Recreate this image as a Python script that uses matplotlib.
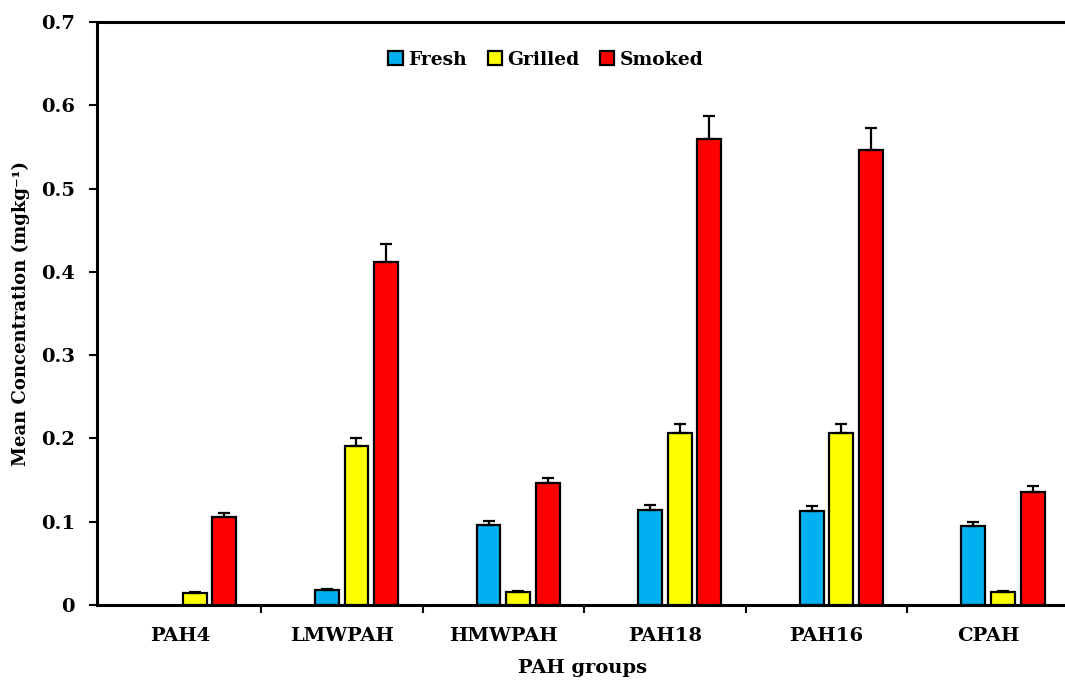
import numpy as np
import matplotlib.pyplot as plt

# PAH group means (mg/kg) and their standard errors
groups = ["PAH4", "LMWPAH", "HMWPAH", "PAH18", "PAH16", "CPAH"]
fresh = [0.0, 0.018, 0.096, 0.114, 0.113, 0.095]
grilled = [0.015, 0.191, 0.016, 0.207, 0.207, 0.016]
smoked = [0.106, 0.412, 0.146, 0.559, 0.546, 0.136]
fresh_err = [0.0, 0.001, 0.005, 0.006, 0.006, 0.005]
grilled_err = [0.001, 0.010, 0.001, 0.010, 0.010, 0.001]
smoked_err = [0.005, 0.021, 0.007, 0.028, 0.027, 0.007]

plt.rcParams['font.family'] = ['DejaVu Serif']
plt.rcParams['font.weight'] = 'bold'

fig = plt.figure(figsize=(10.65, 6.8), dpi=100)
ax = fig.add_axes([97 / 1065, 75 / 680, 972 / 1065, 583 / 680])

x = np.arange(len(groups))
step = 0.183
width = 0.148
series = [
    ("Fresh", fresh, fresh_err, "#00B0F0", -0.5),
    ("Grilled", grilled, grilled_err, "#FFFF00", 0.5),
    ("Smoked", smoked, smoked_err, "#FF0000", 1.5),
]
for name, vals, errs, color, off in series:
    vals = np.array(vals)
    errs = np.array(errs)
    shown = vals > 0
    ax.bar(x[shown] + off * step, vals[shown], width, color=color,
           edgecolor="black", linewidth=1.6, label=name, zorder=2)
    ax.errorbar(x[shown] + off * step, vals[shown],
                yerr=[np.zeros(shown.sum()), errs[shown]],
                fmt="none", ecolor="black", elinewidth=1.6,
                capsize=4.5, capthick=1.6, zorder=3)

ax.set_xlim(-0.514, 5.5)
ax.set_ylim(0, 0.7)
ax.set_yticks(np.arange(0, 0.71, 0.1))
ax.set_yticklabels(["0"] + [f"{v:.1f}" for v in np.arange(0.1, 0.71, 0.1)])
ax.set_xticks(x)
ax.set_xticklabels(groups)
ax.set_xticks(np.arange(0.5, 5.5, 1.0), minor=True)
ax.tick_params(axis="x", which="major", length=0, pad=16, labelsize=14)
ax.tick_params(axis="x", which="minor", length=6, width=1.5, direction="out")
ax.tick_params(axis="y", length=6, width=1.5, direction="out", labelsize=14, pad=10)

for side in ["left", "bottom", "top"]:
    ax.spines[side].set_linewidth(2.2)
ax.spines["right"].set_visible(False)

ax.set_xlabel("PAH groups", fontsize=14, fontweight="bold", labelpad=10)
ax.set_ylabel("Mean Concentration (mgkg⁻¹)", fontsize=13, fontweight="bold", labelpad=8)

ax.legend(loc="center", bbox_to_anchor=(0.462, 0.935), ncol=3, frameon=False,
          fontsize=13.5, handlelength=0.75, handleheight=0.75, handletextpad=0.3,
          columnspacing=1.1)

fig.savefig("out.png", dpi=100)
